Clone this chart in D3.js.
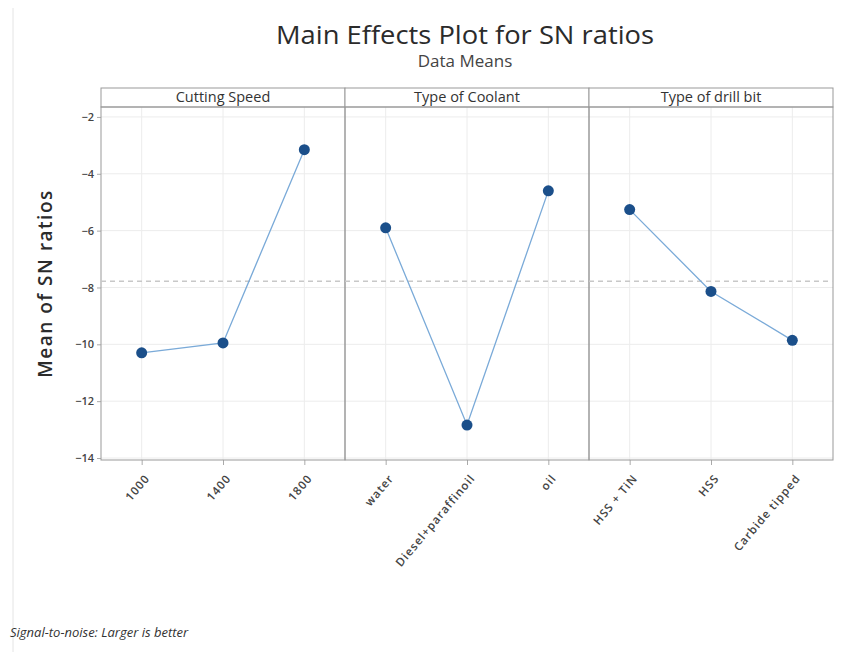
<!DOCTYPE html>
<html>
<head>
<meta charset="utf-8">
<script src="https://cdn.jsdelivr.net/npm/d3@7"></script>
<style>
  body { margin: 0; background: #fff; }
  text { font-family: "Open Sans", sans-serif; }
</style>
</head>
<body>
<div id="chart"></div>
<script>
// factors and their levels
const factors = ["Cutting Speed", "Type of Coolant", "Type of drill bit"];
const speedLevels = ["1000", "1400", "1800"];
const coolantLevels = ["water", "Diesel+paraffinoil", "oil"];
const bitLevels = ["HSS + TiN", "HSS", "Carbide tipped"];

// mean of SN ratios
const speedMeans = [-10.3, -9.95, -3.15];
const coolantMeans = [-5.9, -12.84, -4.6];
const bitMeans = [-5.26, -8.14, -9.86];

const yTicks = [-2, -4, -6, -8, -10, -12, -14];

const width = 857, height = 652,
  margin = ({top: 107, right: 24, bottom: 192, left: 101});

const panels = [
  {name: factors[0], levels: speedLevels, values: speedMeans},
  {name: factors[1], levels: coolantLevels, values: coolantMeans},
  {name: factors[2], levels: bitLevels, values: bitMeans}
];

const allValues = [...speedMeans, ...coolantMeans, ...bitMeans];
const grandMean = d3.mean(allValues);

const svg = d3.select("#chart")
  .append("svg")
  .attr("width", width)
  .attr("height", height)
  .attr("viewBox", [0, 0, width, height]);

// outer frame edge on the left
svg.append("line")
  .attr("x1", 13).attr("x2", 13)
  .attr("y1", 8).attr("y2", height)
  .attr("stroke", "#e4e4e4");

let y = d3.scaleLinear()
  .domain([-14.07, -1.65])
  .range([height - margin.bottom, margin.top]);

let px = d3.scaleBand()
  .domain(factors)
  .range([margin.left, width - margin.right]);

const headerTop = 88;

// horizontal gridlines across all panels
svg.append("g")
  .selectAll("line")
  .data(yTicks)
  .join("line")
  .attr("x1", margin.left).attr("x2", width - margin.right)
  .attr("y1", d => y(d)).attr("y2", d => y(d))
  .attr("stroke", "#ececec");

// y axis
svg.append("g")
  .attr("transform", `translate(${margin.left},0)`)
  .call(d3.axisLeft(y).tickValues(yTicks).tickSize(4).tickSizeOuter(0))
  .call(g => g.select(".domain").remove())
  .call(g => g.selectAll("line").attr("stroke", "#aaa"))
  .call(g => g.selectAll("text").attr("fill", "#444").attr("font-size", 11).attr("font-weight", 600));

svg.append("text")
  .attr("transform", "rotate(-90)")
  .attr("x", -(margin.top + y.range()[0]) / 2 + 0)
  .attr("y", 52)
  .attr("text-anchor", "middle")
  .attr("font-size", 19)
  .attr("font-weight", 600)
  .attr("letter-spacing", 1.5)
  .attr("fill", "#2b2b2b")
  .text("Mean of SN ratios");

panels.forEach(p => {
  const x0 = px(p.name), bw = px.bandwidth();

  let x = d3.scalePoint()
    .domain(p.levels)
    .range([x0, x0 + bw])
    .padding(0.5);

  const g = svg.append("g");

  // vertical gridlines
  g.selectAll(".vgrid")
    .data(p.levels)
    .join("line")
    .attr("x1", d => x(d)).attr("x2", d => x(d))
    .attr("y1", margin.top).attr("y2", y.range()[0])
    .attr("stroke", "#ececec");

  // x axis ticks + labels
  g.append("g")
    .attr("transform", `translate(0,${y.range()[0]})`)
    .call(d3.axisBottom(x).tickSize(5).tickSizeOuter(0))
    .call(a => a.select(".domain").remove())
    .call(a => a.selectAll("line").attr("stroke", "#aaa"))
    .call(a => a.selectAll("text")
      .attr("fill", "#444")
      .attr("font-size", 11.5)
      .attr("font-weight", 600)
      .attr("letter-spacing", 1)
      .attr("text-anchor", "end")
      .attr("transform", "translate(5,16) rotate(-50)")
      .attr("dy", "0.35em")
      .attr("y", 0)
      .attr("x", 0));

  // panel header
  g.append("rect")
    .attr("x", x0).attr("y", headerTop)
    .attr("width", bw).attr("height", margin.top - headerTop)
    .attr("fill", "#fff")
    .attr("stroke", "#999");

  g.append("text")
    .attr("x", x0 + bw / 2)
    .attr("y", margin.top - 5)
    .attr("text-anchor", "middle")
    .attr("font-size", 14.5)
    .attr("fill", "#333")
    .text(p.name);

  // panel frame
  g.append("rect")
    .attr("x", x0).attr("y", margin.top)
    .attr("width", bw).attr("height", y.range()[0] - margin.top)
    .attr("fill", "none")
    .attr("stroke", "#999");

  // grand mean reference line
  g.append("line")
    .attr("x1", x0).attr("x2", x0 + bw)
    .attr("y1", y(grandMean)).attr("y2", y(grandMean))
    .attr("stroke", "#c8c8c8")
    .attr("stroke-dasharray", "5,4")
    .attr("stroke-width", 1.5);

  const pts = p.levels.map((l, i) => ({level: l, value: p.values[i]}));

  let line = d3.line()
    .x(d => x(d.level))
    .y(d => y(d.value));

  g.append("path")
    .datum(pts)
    .attr("d", line)
    .attr("fill", "none")
    .attr("stroke", "#7aaad8")
    .attr("stroke-width", 1.3);

  g.selectAll("circle")
    .data(pts)
    .join("circle")
    .attr("cx", d => x(d.level))
    .attr("cy", d => y(d.value))
    .attr("r", 5.5)
    .attr("fill", "#1b4f8a");
});

// titles
svg.append("text")
  .attr("x", 465).attr("y", 44)
  .attr("text-anchor", "middle")
  .attr("font-size", 25)
  .attr("fill", "#2b2b2b")
  .attr("textLength", 378)
  .attr("lengthAdjust", "spacingAndGlyphs")
  .text("Main Effects Plot for SN ratios");

svg.append("text")
  .attr("x", 465).attr("y", 67)
  .attr("text-anchor", "middle")
  .attr("font-size", 17)
  .attr("fill", "#444")
  .text("Data Means");

svg.append("text")
  .attr("x", 10).attr("y", 637)
  .attr("font-size", 13)
  .attr("font-style", "italic")
  .attr("fill", "#333")
  .text("Signal-to-noise: Larger is better");
</script>
</body>
</html>
